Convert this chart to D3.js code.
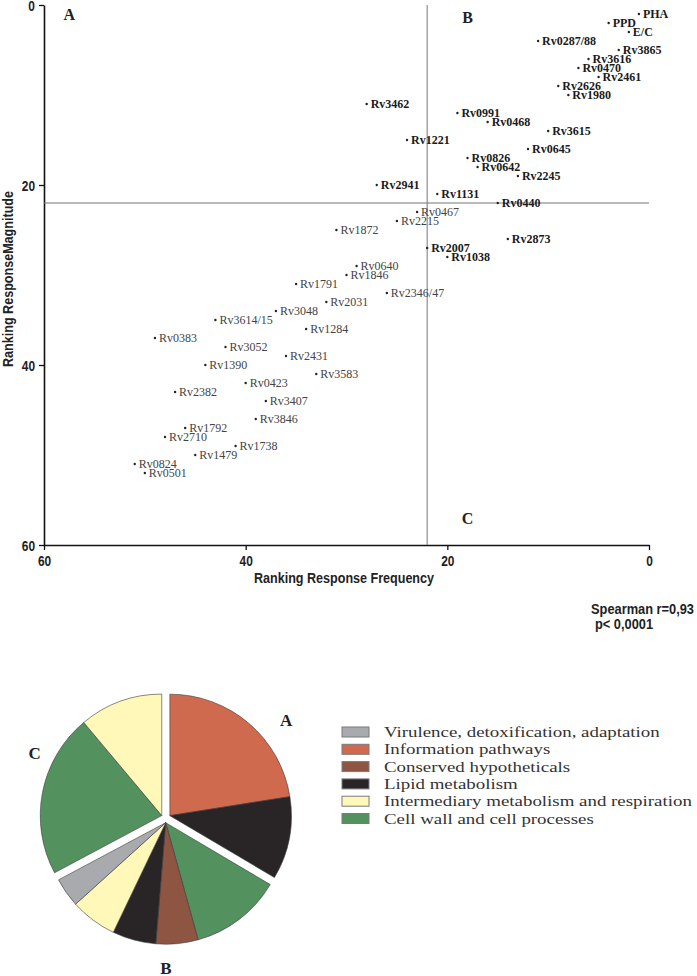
<!DOCTYPE html>
<html>
<head>
<meta charset="utf-8">
<script src="https://cdn.jsdelivr.net/npm/d3@7"></script>
<style>
  html, body { margin: 0; padding: 0; background: #fff; }
  svg { display: block; }
  .narrow { font-family: "Liberation Sans", Arial, sans-serif; font-weight: bold; }
  .serif { font-family: "Liberation Serif", "Times New Roman", serif; }
</style>
</head>
<body>
<svg id="chart" width="697" height="976"></svg>
<script>
// ---------------- Data ----------------
const antigens = ["PHA","PPD","E/C","Rv0287/88","Rv3865","Rv3616","Rv0470","Rv2461","Rv2626","Rv1980",
  "Rv3462","Rv0991","Rv0468","Rv3615","Rv1221","Rv0645","Rv0826","Rv0642","Rv2245","Rv2941",
  "Rv1131","Rv0440","Rv0467","Rv2215","Rv1872","Rv2873","Rv2007","Rv1038","Rv0640","Rv1846",
  "Rv1791","Rv2346/47","Rv2031","Rv3048","Rv3614/15","Rv1284","Rv0383","Rv3052","Rv2431","Rv1390",
  "Rv3583","Rv0423","Rv2382","Rv3407","Rv3846","Rv1792","Rv2710","Rv1738","Rv1479","Rv0824","Rv0501"];
const frequencyRank = [1,4,2,11,3,6,7,5,9,8,
  28,19,16,10,24,12,18,17,13,27,
  21,15,23,25,31,14,22,20,29,30,
  35,26,32,37,43,34,49,42,36,44,
  33,40,47,38,39,46,48,41,45,51,50];
const magnitudeRank = [1,2,3,4,5,6,7,8,9,10,
  11,12,13,14,15,16,17,18,19,20,
  21,22,23,24,25,26,27,28,29,30,
  31,32,33,34,35,36,37,38,39,40,
  41,42,43,44,46,47,48,49,50,51,52];
const boldAntigens = ["PHA","PPD","E/C","Rv0287/88","Rv3865","Rv3616","Rv0470","Rv2461","Rv2626","Rv1980",
  "Rv3462","Rv0991","Rv0468","Rv3615","Rv1221","Rv0645","Rv0826","Rv0642","Rv2245","Rv2941",
  "Rv1131","Rv0440","Rv2873","Rv2007","Rv1038"];
const xTicks = [60, 40, 20, 0];
const yTicks = [0, 20, 40, 60];
const threshold = 22;
const quadrantNames = ["A", "B", "C"];
const quadrantX = [57.5, 18, 18];
const quadrantY = [1, 1.4, 57];

const pieGroup = ["A","A","B","B","B","B","B","C","C"];
const pieCategory = ["Information pathways","Lipid metabolism","Cell wall and cell processes",
  "Conserved hypotheticals","Lipid metabolism","Intermediary metabolism and respiration",
  "Virulence, detoxification, adaptation","Cell wall and cell processes","Intermediary metabolism and respiration"];
const pieShare = [22.5, 11.0, 12.2, 5.6, 5.8, 6.2, 3.9, 21.7, 11.1];

const legendCategories = ["Virulence, detoxification, adaptation","Information pathways","Conserved hypotheticals",
  "Lipid metabolism","Intermediary metabolism and respiration","Cell wall and cell processes"];
const legendColors = ["#a9aaae","#cf6a4e","#8e5542","#292526","#fff8b8","#53925f"];

// helper: squeeze a text horizontally by a factor
function fitWidth(sel, factor) {
  sel.each(function () {
    const w = this.getComputedTextLength();
    d3.select(this).attr("textLength", w * factor).attr("lengthAdjust", "spacingAndGlyphs");
  });
}

// ---------------- Scatter ----------------
const svg = d3.select("#chart");
const x = d3.scaleLinear().domain([60, 0]).range([44, 649]);
const y = d3.scaleLinear().domain([0, 60]).range([5, 545]);

const gx = svg.append("g").attr("transform", `translate(0,${y(60)})`)
  .call(d3.axisBottom(x).tickValues(xTicks).tickSize(5).tickSizeOuter(0).tickFormat(d3.format("d")));
const gy = svg.append("g").attr("transform", `translate(${x(60)},0)`)
  .call(d3.axisLeft(y).tickValues(yTicks).tickSize(5).tickSizeOuter(0).tickFormat(d3.format("d")));
[gx, gy].forEach(g => {
  g.select(".domain").attr("stroke", "#111").attr("stroke-width", 1.6);
  g.selectAll(".tick line").attr("stroke", "#111").attr("stroke-width", 1.3);
  g.selectAll(".tick text").attr("class", "narrow").attr("font-size", 14).attr("fill", "#222");
});
gx.selectAll(".tick text").attr("dy", "0.9em");
gy.selectAll(".tick text").attr("dx", "-1").attr("dy", "0.36em");
fitWidth(gx.selectAll(".tick text"), 0.85);
fitWidth(gy.selectAll(".tick text"), 0.85);

// reference lines
svg.append("line").attr("x1", x(threshold)).attr("x2", x(threshold)).attr("y1", y(0)).attr("y2", y(60))
  .attr("stroke", "#777").attr("stroke-width", 1);
svg.append("line").attr("x1", x(60)).attr("x2", x(0)).attr("y1", y(threshold)).attr("y2", y(threshold))
  .attr("stroke", "#777").attr("stroke-width", 1);

svg.append("text").attr("class", "narrow").attr("x", 344).attr("y", 583)
  .attr("text-anchor", "middle").attr("font-size", 14.5).attr("fill", "#222")
  .attr("textLength", 180).attr("lengthAdjust", "spacingAndGlyphs")
  .text("Ranking Response Frequency");
svg.append("text").attr("class", "narrow").attr("transform", "translate(13,279) rotate(-90)")
  .attr("text-anchor", "middle").attr("font-size", 14.5).attr("fill", "#222")
  .attr("textLength", 176).attr("lengthAdjust", "spacingAndGlyphs")
  .text("Ranking ResponseMagnitude");

quadrantNames.forEach((q, i) => {
  svg.append("text").attr("class", "serif").attr("x", x(quadrantX[i])).attr("y", y(quadrantY[i]))
    .attr("text-anchor", "middle").attr("dominant-baseline", "central")
    .attr("font-size", 16).attr("font-weight", "bold").attr("fill", "#222").text(q);
});

const points = antigens.map((name, i) => ({ name, fx: frequencyRank[i], my: magnitudeRank[i], bold: boldAntigens.includes(name) }));
const pg = svg.append("g");
pg.selectAll("circle").data(points).join("circle")
  .attr("cx", d => x(d.fx)).attr("cy", d => y(d.my)).attr("r", 1.2).attr("fill", "#222");
pg.selectAll("text").data(points).join("text")
  .attr("class", "serif")
  .attr("x", d => x(d.fx) + 4).attr("y", d => y(d.my)).attr("dy", "0.33em")
  .attr("font-size", 12).attr("font-weight", d => d.bold ? "bold" : "normal")
  .attr("fill", d => d.bold ? "#1a1a1a" : "#444")
  .text(d => d.name);

svg.append("text").attr("class", "narrow").attr("x", 591).attr("y", 614).attr("font-size", 14).attr("fill", "#222")
  .attr("textLength", 103).attr("lengthAdjust", "spacingAndGlyphs")
  .text("Spearman r=0,93");
svg.append("text").attr("class", "narrow").attr("x", 595).attr("y", 629).attr("font-size", 14).attr("fill", "#222")
  .attr("textLength", 58).attr("lengthAdjust", "spacingAndGlyphs")
  .text("p< 0,0001");

// ---------------- Pie ----------------
const color = d3.scaleOrdinal().domain(legendCategories).range(legendColors);
const cx = 165.8, cy = 818, R = 121.5, explode = 4.7;
const slices = pieCategory.map((c, i) => ({ cat: c, group: pieGroup[i], share: pieShare[i] }));
const arcs = d3.pie().sort(null).value(d => d.share)(slices);
const groupMid = {};
quadrantNames.forEach(q => {
  const ga = arcs.filter(a => a.data.group === q);
  groupMid[q] = (d3.min(ga, a => a.startAngle) + d3.max(ga, a => a.endAngle)) / 2;
});
const arc = d3.arc().innerRadius(0).outerRadius(R);
const pieG = svg.append("g").attr("transform", `translate(${cx},${cy})`);
pieG.selectAll("path").data(arcs).join("path")
  .attr("transform", d => { const [dx, dy] = d3.pointRadial(groupMid[d.data.group], explode); return `translate(${dx},${dy})`; })
  .attr("d", arc).attr("fill", d => color(d.data.cat))
  .attr("stroke", "#3a3a3a").attr("stroke-width", 0.6);

const pieLabelAngle = [51, 180, 296];
const pieLabelRadius = [155, 150, 146];
quadrantNames.forEach((q, i) => {
  const [dx, dy] = d3.pointRadial(pieLabelAngle[i] * Math.PI / 180, pieLabelRadius[i]);
  svg.append("text").attr("class", "serif").attr("x", cx + dx).attr("y", cy + dy)
    .attr("text-anchor", "middle").attr("dominant-baseline", "central")
    .attr("font-size", 17).attr("font-weight", "bold").attr("fill", "#222").text(q);
});

// ---------------- Legend ----------------
const lg = svg.append("g").attr("transform", "translate(342,732)");
legendCategories.forEach((c, i) => {
  const row = lg.append("g").attr("transform", `translate(0,${i * 17.3})`);
  row.append("rect").attr("x", 0).attr("y", -5).attr("width", 27).attr("height", 10)
    .attr("fill", legendColors[i]).attr("stroke", "#7a7a7a").attr("stroke-width", 1);
  row.append("text").attr("class", "serif").attr("transform", "translate(42,0) scale(1.22,1)")
    .attr("x", 0).attr("y", 0).attr("dy", "0.33em")
    .attr("font-size", 15.5).attr("fill", "#333").text(c);
});
</script>
</body>
</html>
